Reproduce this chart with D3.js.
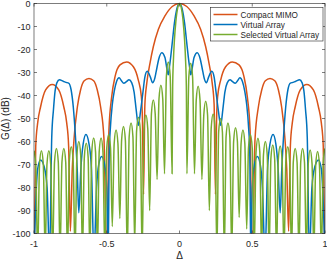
<!DOCTYPE html>
<html>
<head>
<meta charset="utf-8">
<script src="https://d3js.org/d3.v7.min.js"></script>
<style>
  body { margin: 0; background: #fff; }
  text { font-family: "Liberation Sans", Arial, Helvetica, sans-serif; fill: #262626; }
</style>
</head>
<body>
<svg id="chart" width="327" height="261"></svg>
<script>
// tick values
const xTicks = [-1, -0.5, 0, 0.5, 1];
const yTicks = [0, -10, -20, -30, -40, -50, -60, -70, -80, -90, -100];
const seriesNames = ["Compact MIMO", "Virtual Array", "Selected Virtual Array"];

// [delta, dB] (values below -100 are clipped nulls)
const compactMimo = [
  [-1,-115],[-0.988,-62],[-0.975,-52],[-0.955,-45],[-0.92,-37.6],[-0.875,-35.2],[-0.83,-37.6],[-0.795,-45],[-0.775,-52],[-0.762,-62],
  [-0.75,-99],[-0.737,-72],[-0.725,-59],[-0.702,-45],[-0.68,-37.6],[-0.655,-33.6],[-0.622,-32.6],[-0.59,-33.6],[-0.565,-37.6],[-0.542,-45],[-0.519,-59],
  [-0.5,-115],[-0.485,-55],[-0.466,-40.5],[-0.443,-31.8],[-0.409,-26.7],[-0.363,-25.4],[-0.317,-27.5],[-0.283,-33.3],[-0.262,-40.5],[-0.255,-50],
  [-0.247,-83],[-0.238,-44],[-0.225,-34.7],[-0.203,-26],[-0.18,-18.8],[-0.145,-11.2],[-0.1,-5.4],[-0.05,-1.3],
  [0,0],
  [0.05,-1.3],[0.1,-5.4],[0.145,-11.2],[0.18,-18.8],[0.203,-26],[0.225,-34.7],[0.238,-44],[0.247,-83],
  [0.255,-50],[0.262,-40.5],[0.283,-33.3],[0.317,-27.5],[0.363,-25.4],[0.409,-26.7],[0.443,-31.8],[0.466,-40.5],[0.485,-55],[0.5,-115],
  [0.519,-59],[0.542,-45],[0.565,-37.6],[0.59,-33.6],[0.622,-32.6],[0.655,-33.6],[0.68,-37.6],[0.702,-45],[0.725,-59],[0.737,-72],[0.75,-99],
  [0.762,-62],[0.775,-52],[0.795,-45],[0.83,-37.6],[0.875,-35.2],[0.92,-37.6],[0.955,-45],[0.975,-52],[0.988,-62],[1,-115]
];

const virtualArray = [
  [-1,-110],[-0.99,-90],[-0.975,-72],[-0.955,-68],[-0.93,-71],[-0.91,-80],[-0.893,-110],
  [-0.878,-58],[-0.866,-46],[-0.855,-38],[-0.843,-34.5],[-0.825,-33.2],[-0.8,-33.8],[-0.78,-34.3],[-0.762,-34.6],[-0.745,-37.5],[-0.73,-45],[-0.715,-58],[-0.703,-72],
  [-0.692,-91],[-0.678,-72],[-0.662,-61],[-0.643,-57],[-0.622,-61],[-0.605,-72],[-0.588,-110],
  [-0.57,-80],[-0.555,-70],[-0.535,-66.5],[-0.515,-70],[-0.5,-80],[-0.49,-110],
  [-0.483,-65],[-0.475,-54],[-0.462,-44],[-0.448,-38],[-0.432,-33.8],[-0.415,-32.3],[-0.4,-33.5],[-0.383,-34.7],[-0.365,-34],[-0.347,-33.2],[-0.328,-34.5],[-0.312,-38.5],[-0.298,-46],
  [-0.283,-53],[-0.268,-47],[-0.252,-39],[-0.238,-32],[-0.222,-29.5],[-0.2,-32],[-0.185,-34.5],[-0.172,-33],[-0.16,-29.5],[-0.142,-24],[-0.122,-21.4],[-0.1,-23.5],[-0.085,-29],
  [-0.077,-31],[-0.07,-28],[-0.06,-23],[-0.048,-16],[-0.035,-8.5],[-0.02,-2.8],
  [0,0],
  [0.02,-2.8],[0.035,-8.5],[0.048,-16],[0.06,-23],[0.07,-28],[0.077,-31],
  [0.085,-29],[0.1,-23.5],[0.122,-21.4],[0.142,-24],[0.16,-29.5],[0.172,-33],[0.185,-34.5],[0.2,-32],[0.222,-29.5],[0.238,-32],[0.252,-39],[0.268,-47],[0.283,-53],
  [0.298,-46],[0.312,-38.5],[0.328,-34.5],[0.347,-33.2],[0.365,-34],[0.383,-34.7],[0.4,-33.5],[0.415,-32.3],[0.432,-33.8],[0.448,-38],[0.462,-44],[0.475,-54],[0.483,-65],[0.49,-110],
  [0.5,-80],[0.515,-70],[0.535,-66.5],[0.555,-70],[0.57,-80],[0.588,-110],
  [0.605,-72],[0.622,-61],[0.643,-57],[0.662,-61],[0.678,-72],[0.692,-91],
  [0.703,-72],[0.715,-58],[0.73,-45],[0.745,-37.5],[0.762,-34.6],[0.78,-34.3],[0.8,-33.8],[0.825,-33.2],[0.843,-34.5],[0.855,-38],[0.866,-46],[0.878,-58],[0.893,-110],
  [0.91,-80],[0.93,-71],[0.955,-68],[0.975,-72],[0.99,-90],[1,-110]
];

const selectedVirtualArray = [
  [-1,-64],[-0.988,-70],[-0.975,-110],
  [-0.962,-70],[-0.949,-64],[-0.936,-70],[-0.923,-110],
  [-0.911,-70],[-0.898,-64],[-0.885,-70],[-0.872,-110],
  [-0.859,-69],[-0.846,-63],[-0.833,-69],[-0.821,-110],
  [-0.808,-69],[-0.795,-63],[-0.782,-69],[-0.77,-110],
  [-0.757,-68.3],[-0.744,-62.3],[-0.731,-68.3],[-0.718,-110],
  [-0.705,-66],[-0.692,-60],[-0.679,-66],[-0.667,-110],
  [-0.654,-66.8],[-0.641,-60.8],[-0.628,-66.8],[-0.616,-110],
  [-0.603,-64.5],[-0.59,-58.5],[-0.577,-64.5],[-0.564,-110],
  [-0.552,-64.5],[-0.539,-58.5],[-0.526,-64.5],[-0.513,-110],
  [-0.5,-63],[-0.487,-57],[-0.474,-63],[-0.462,-97],
  [-0.449,-61],[-0.436,-55],[-0.423,-61],[-0.41,-93.5],
  [-0.398,-59.5],[-0.385,-53.5],[-0.372,-59.5],[-0.359,-110],
  [-0.346,-58],[-0.333,-52],[-0.32,-58],[-0.308,-105],
  [-0.295,-55.5],[-0.282,-49.5],[-0.269,-55.5],[-0.257,-110],
  [-0.244,-54.5],[-0.231,-48.5],[-0.218,-54.5],[-0.205,-90],
  [-0.193,-48],[-0.18,-42],[-0.167,-48],[-0.154,-76.5],
  [-0.141,-41.5],[-0.128,-35.5],[-0.115,-41.5],[-0.103,-74],
  [-0.09,-31.5],[-0.077,-25.4],[-0.064,-31.5],[-0.051,-74],
  [-0.047,-36],[-0.042,-25],[-0.035,-16],[-0.025,-7.8],[-0.012,-1.8],
  [0,0],
  [0.012,-1.8],[0.025,-7.8],[0.035,-16],[0.042,-25],[0.047,-36],[0.051,-74],
  [0.064,-32],[0.077,-26],[0.09,-32],[0.103,-74],
  [0.115,-42],[0.128,-36],[0.141,-42],[0.154,-76.5],
  [0.167,-48.5],[0.18,-42.5],[0.193,-48.5],[0.205,-90],
  [0.218,-54],[0.231,-48],[0.244,-54],[0.257,-110],
  [0.269,-56],[0.282,-50],[0.295,-56],[0.308,-110],
  [0.32,-58],[0.333,-52],[0.346,-58],[0.359,-110],
  [0.372,-60],[0.385,-54],[0.398,-60],[0.41,-93],
  [0.423,-61],[0.436,-55],[0.449,-61],[0.462,-98],
  [0.474,-63],[0.487,-57],[0.5,-63],[0.513,-110],
  [0.526,-64.6],[0.539,-58.6],[0.552,-64.6],[0.564,-110],
  [0.577,-66],[0.59,-60],[0.603,-66],[0.616,-110],
  [0.628,-67.5],[0.641,-61.5],[0.654,-67.5],[0.667,-110],
  [0.679,-68],[0.692,-62],[0.705,-68],[0.718,-110],
  [0.731,-68.3],[0.744,-62.3],[0.757,-68.3],[0.77,-110],
  [0.782,-69],[0.795,-63],[0.808,-69],[0.821,-110],
  [0.833,-69],[0.846,-63],[0.859,-69],[0.872,-110],
  [0.885,-69.7],[0.898,-63.7],[0.911,-69.7],[0.923,-110],
  [0.936,-70.4],[0.949,-64.4],[0.962,-70.4],[0.975,-110],
  [0.988,-69],[1,-63]
];

const W = 327, H = 261;
const margin = {left: 34, right: 2, top: 3.5, bottom: 27.5};
const colors = ["#D95319", "#0072BD", "#77AC30"];
const axisColor = "#262626";

const svg = d3.select("#chart");

const x = d3.scaleLinear().domain([-1, 1]).range([margin.left, W - margin.right]);
const y = d3.scaleLinear().domain([-100, 0]).range([H - margin.bottom, margin.top]);

svg.append("defs").append("clipPath").attr("id", "plotClip")
  .append("rect")
  .attr("x", x(-1)).attr("y", y(0) - 1)
  .attr("width", x(1) - x(-1)).attr("height", y(-100) - y(0) + 1);

const line = d3.line()
  .x(d => x(d[0]))
  .y(d => y(d[1]))
  .curve(d3.curveMonotoneX);

const plot = svg.append("g").attr("clip-path", "url(#plotClip)");
[compactMimo, virtualArray, selectedVirtualArray].forEach((s, i) => {
  plot.append("path")
    .datum(s)
    .attr("d", line)
    .attr("fill", "none")
    .attr("stroke", colors[i])
    .attr("stroke-width", 1.5)
    .attr("stroke-linejoin", "round");
});

// box + inward ticks (matlab style)
const tickLen = 3;
const axisG = svg.append("g");
axisG.append("rect")
  .attr("x", x(-1)).attr("y", y(0))
  .attr("width", x(1) - x(-1)).attr("height", y(-100) - y(0))
  .attr("fill", "none").attr("stroke", axisColor).attr("stroke-width", 0.6);

xTicks.forEach(t => {
  axisG.append("line").attr("x1", x(t)).attr("x2", x(t))
    .attr("y1", y(-100)).attr("y2", y(-100) - tickLen)
    .attr("stroke", axisColor).attr("stroke-width", 0.6);
  axisG.append("line").attr("x1", x(t)).attr("x2", x(t))
    .attr("y1", y(0)).attr("y2", y(0) + tickLen)
    .attr("stroke", axisColor).attr("stroke-width", 0.6);
  axisG.append("text")
    .attr("x", x(t)).attr("y", y(-100) + 13)
    .attr("text-anchor", "middle")
    .attr("font-size", 9)
    .text(t);
});

yTicks.forEach(t => {
  axisG.append("line").attr("x1", x(-1)).attr("x2", x(-1) + tickLen)
    .attr("y1", y(t)).attr("y2", y(t))
    .attr("stroke", axisColor).attr("stroke-width", 0.6);
  axisG.append("line").attr("x1", x(1)).attr("x2", x(1) - tickLen)
    .attr("y1", y(t)).attr("y2", y(t))
    .attr("stroke", axisColor).attr("stroke-width", 0.6);
  axisG.append("text")
    .attr("x", x(-1) - 3.5).attr("y", y(t) + 3.2)
    .attr("text-anchor", "end")
    .attr("font-size", 9)
    .text(t);
});

svg.append("text")
  .attr("x", x(0)).attr("y", H - 2)
  .attr("text-anchor", "middle")
  .attr("font-size", 10)
  .text("Δ");

svg.append("text")
  .attr("transform", `translate(9,${(y(0) + y(-100)) / 2}) rotate(-90)`)
  .attr("text-anchor", "middle")
  .attr("font-size", 10)
  .text("G(Δ) (dB)");

// legend
const lg = svg.append("g").attr("transform", "translate(210.5,7.5)");
lg.append("rect").attr("width", 112.5).attr("height", 33.5)
  .attr("fill", "#fff").attr("stroke", axisColor).attr("stroke-width", 0.6);
seriesNames.forEach((name, i) => {
  const cy = 7 + i * 10;
  lg.append("line").attr("x1", 3).attr("x2", 27).attr("y1", cy).attr("y2", cy)
    .attr("stroke", colors[i]).attr("stroke-width", 1.5);
  lg.append("text").attr("x", 30).attr("y", cy + 3)
    .attr("font-size", 8.2)
    .text(name);
});
</script>
</body>
</html>
